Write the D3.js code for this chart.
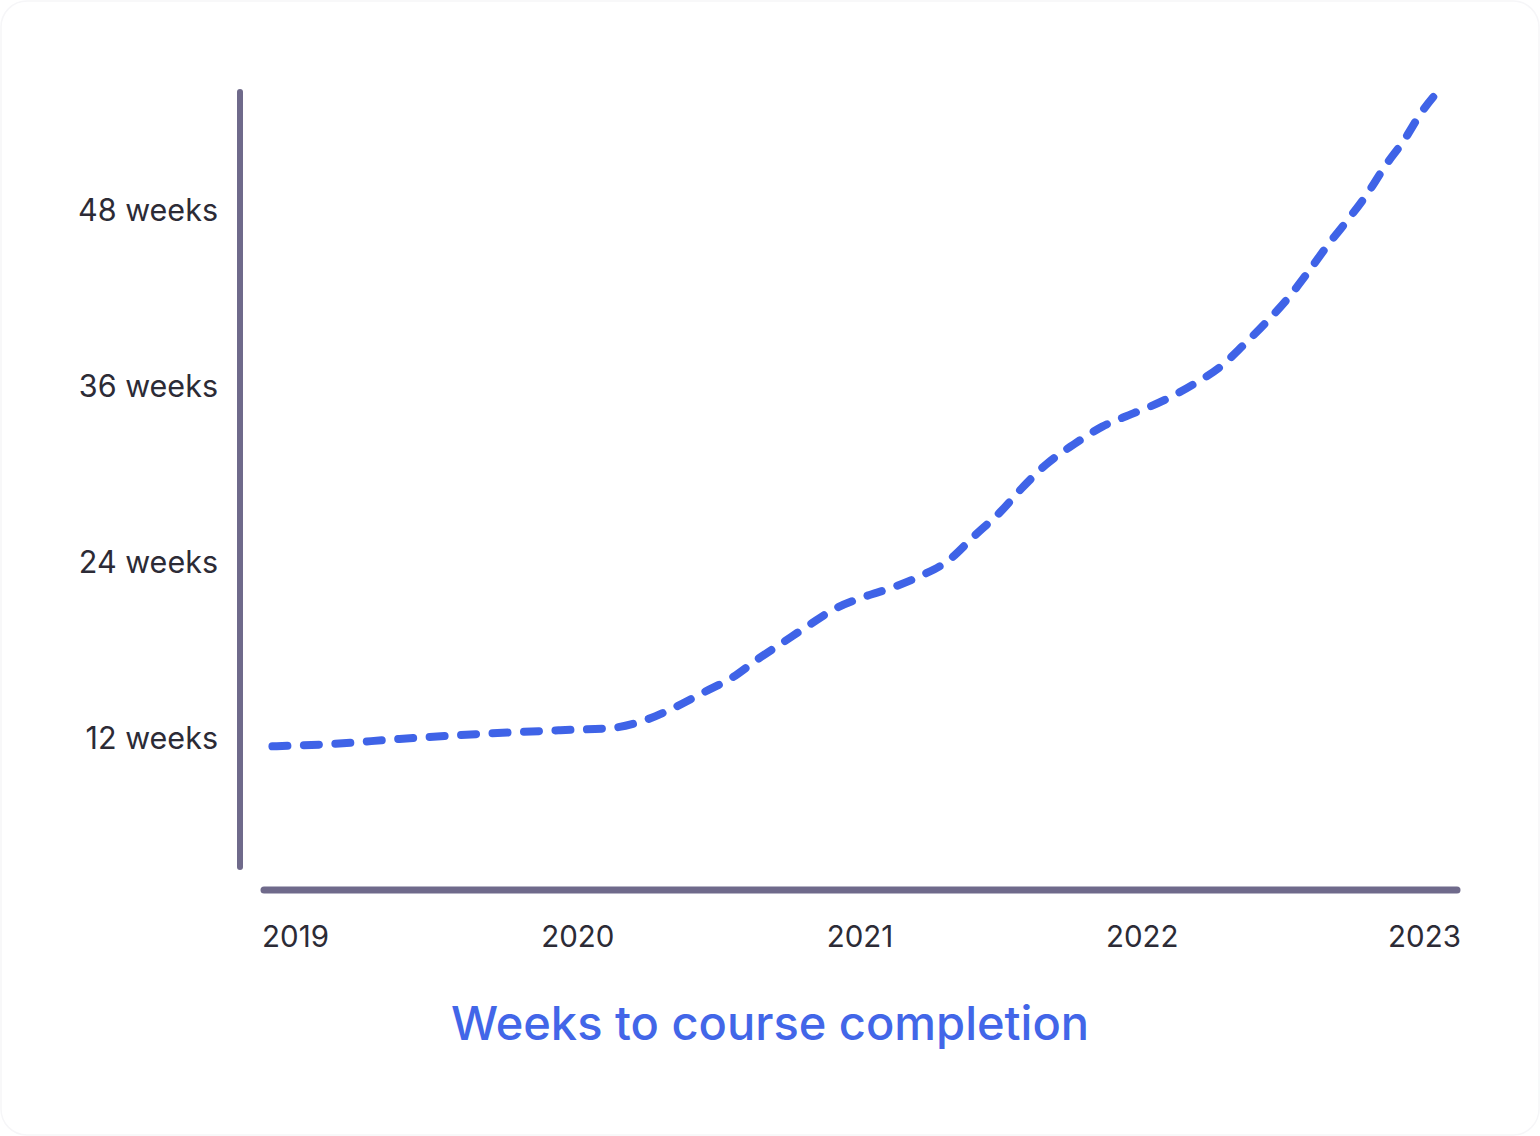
<!DOCTYPE html>
<html>
<head>
<meta charset="utf-8">
<script src="https://cdn.jsdelivr.net/npm/d3@7"></script>
<style>
  html, body { margin: 0; padding: 0; background: #ffffff; }
  svg { display: block; }
  text { font-family: Inter, "Open Sans", sans-serif; }
</style>
</head>
<body>
<svg id="chart" width="1540" height="1136"></svg>
<script>
// ---- Data ----
const yearTicks = [2019, 2020, 2021, 2022, 2023];
const weekTicks = [12, 24, 36, 48];
const periods = [2018.92, 2019.12, 2019.37, 2019.66, 2019.94, 2020.12, 2020.25, 2020.35, 2020.45,
  2020.55, 2020.64, 2020.73, 2020.82, 2020.91, 2021.01, 2021.12, 2021.22, 2021.31, 2021.41,
  2021.50, 2021.58, 2021.66, 2021.76, 2021.86, 2021.97, 2022.08, 2022.18, 2022.28, 2022.36,
  2022.44, 2022.52, 2022.59, 2022.66, 2022.73, 2022.80, 2022.86, 2022.93, 2022.99, 2023.07];
const weeks = [11.5, 11.65, 12.0, 12.35, 12.6, 12.75, 13.35, 14.2, 15.2,
  16.2, 17.45, 18.6, 19.75, 20.85, 21.65, 22.35, 23.15, 24.1, 25.9,
  27.5, 29.2, 30.7, 32.1, 33.3, 34.2, 35.1, 36.15, 37.4, 38.85,
  40.4, 42.1, 43.85, 45.7, 47.4, 49.2, 51.0, 52.85, 54.7, 56.6];
const titleText = "Weeks to course completion";

// ---- Layout ----
const svg = d3.select("#chart");
const W = 1540, H = 1136;

svg.append("rect").attr("x", 1).attr("y", 1).attr("width", W - 2).attr("height", H - 2)
  .attr("rx", 26).attr("fill", "#ffffff").attr("stroke", "#f6f6f8").attr("stroke-width", 1.5);

const x = d3.scaleLinear().domain([2019, 2023]).range([295, 1424]);
const y = d3.scaleLinear().domain([0, 48]).range([915, 211]);

const axisColor = "#6f6a8b";
const textColor = "#2c2b36";

// axis lines
svg.append("line").attr("x1", 240).attr("x2", 240).attr("y1", 92).attr("y2", 867)
  .attr("stroke", axisColor).attr("stroke-width", 6).attr("stroke-linecap", "round");
svg.append("line").attr("x1", 264).attr("x2", 1457).attr("y1", 890).attr("y2", 890)
  .attr("stroke", axisColor).attr("stroke-width", 7).attr("stroke-linecap", "round");

// y axis labels
const yAxis = svg.append("g").attr("transform", "translate(240,0)")
  .call(d3.axisLeft(y).tickValues(weekTicks).tickSize(0).tickPadding(22)
    .tickFormat(d => d + " weeks"));
yAxis.select(".domain").remove();
yAxis.selectAll("text").attr("font-size", 30.5).attr("fill", textColor)
  .attr("font-family", "Inter, sans-serif").attr("font-weight", 400);

// x axis labels
const xAxis = svg.append("g").attr("transform", "translate(0,890)")
  .call(d3.axisBottom(x).tickValues(yearTicks).tickSize(0).tickPadding(36)
    .tickFormat(d3.format("d")));
xAxis.select(".domain").remove();
xAxis.selectAll("text").attr("font-size", 29.5).attr("fill", textColor)
  .attr("font-family", "Inter, sans-serif").attr("font-weight", 400);

// line
const pts = periods.map((p, i) => [p, weeks[i]]);
const line = d3.line().x(d => x(d[0])).y(d => y(d[1])).curve(d3.curveMonotoneX);
svg.append("path").datum(pts).attr("d", line)
  .attr("fill", "none").attr("stroke", "#3f63e7").attr("stroke-width", 8)
  .attr("stroke-linecap", "round").attr("stroke-dasharray", "15 16.5");

// title
svg.append("text").attr("x", 770).attr("y", 1040).attr("text-anchor", "middle")
  .attr("font-size", 47).attr("font-weight", 500).attr("fill", "#4266e8")
  .attr("font-family", "Inter, sans-serif")
  .text(titleText);
</script>
</body>
</html>
